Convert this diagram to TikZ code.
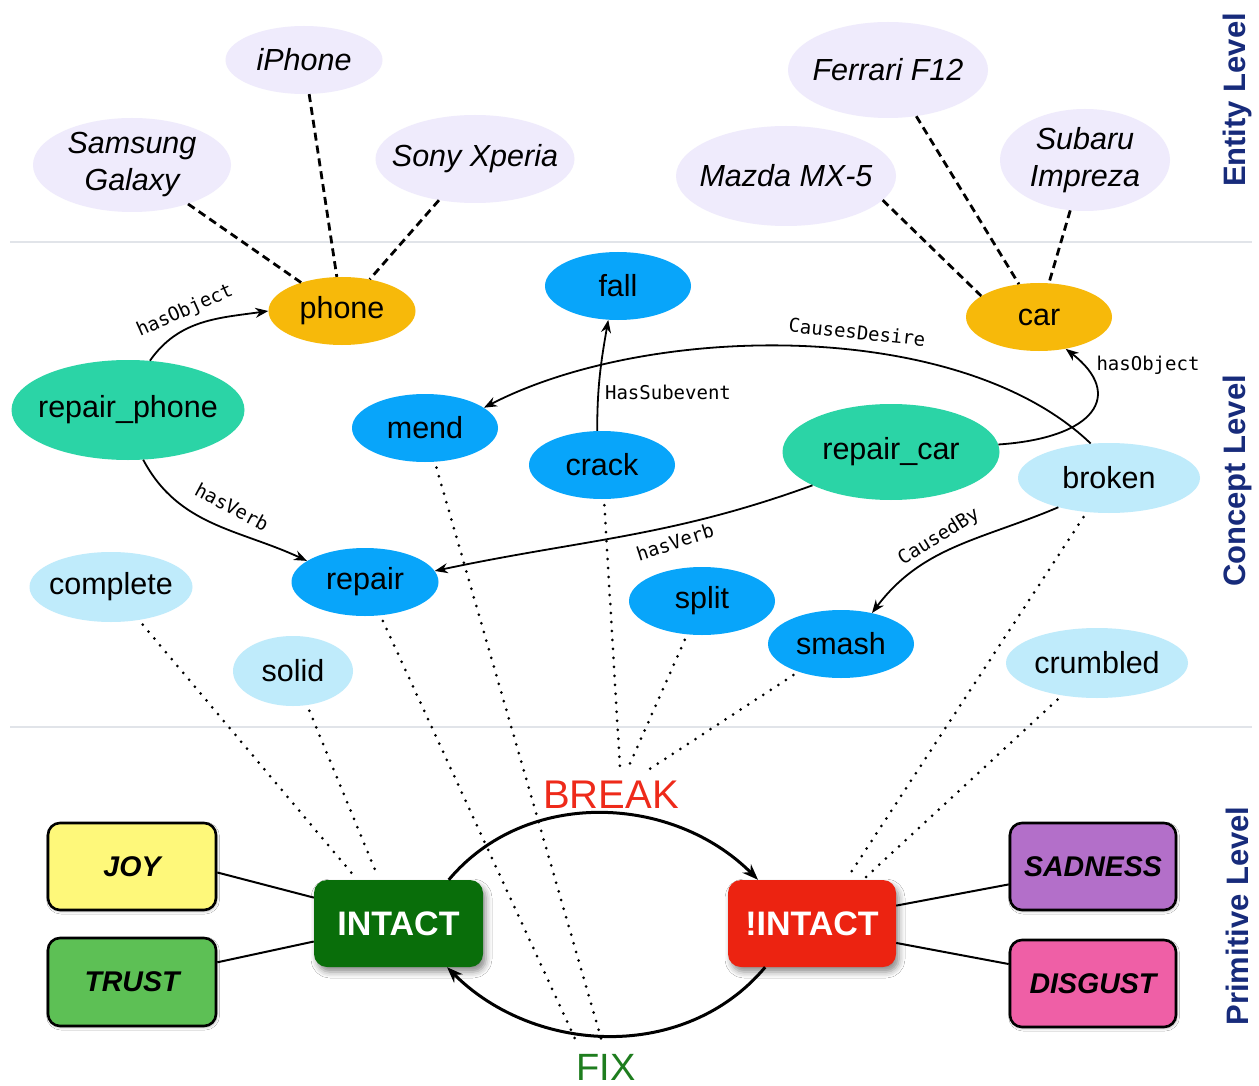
\documentclass[tikz,border=0pt]{standalone}
\usepackage{fontspec}
\setmainfont{Liberation Sans}
\newfontfamily\edgemono{DejaVu Sans Mono}
\usetikzlibrary{shapes.geometric,arrows.meta,shadows.blur}
\definecolor{lav}{HTML}{EFEBFC}
\definecolor{orng}{HTML}{F7B90A}
\definecolor{tealc}{HTML}{2BD4A6}
\definecolor{blu}{HTML}{08A5FA}
\definecolor{lblu}{HTML}{BFEBFB}
\definecolor{joyc}{HTML}{FEF87A}
\definecolor{trustc}{HTML}{5DC055}
\definecolor{intactc}{HTML}{096E0A}
\definecolor{nintc}{HTML}{EC2311}
\definecolor{sadc}{HTML}{B36FC9}
\definecolor{disc}{HTML}{EF5FA6}
\definecolor{navy}{HTML}{172B7B}
\definecolor{breakc}{HTML}{EE2A1A}
\definecolor{fixc}{HTML}{1E7D1E}
\definecolor{sepc}{HTML}{E1E4E9}
\begin{document}
\begin{tikzpicture}[x=1pt,y=-1pt,
  ell/.style={ellipse, inner sep=0pt, draw=none},
  cfont/.style={font=\fontsize{30.5}{35}\selectfont},
  efont/.style={font=\fontsize{30.5}{37}\selectfont\itshape, align=center},
  ent/.style={ell, fill=lav},
  conc/.style={ell, fill=#1},
  emo/.style={rectangle, rounded corners=12pt, draw=black, line width=2.6pt, fill=#1,
     minimum width=166pt, minimum height=87pt, inner sep=0pt,
     font=\fontsize{28.5}{32}\selectfont\bfseries\itshape,
     blur shadow={shadow blur radius=2.5pt, shadow xshift=1pt, shadow yshift=-1.5pt, shadow opacity=30}},
  state/.style={rectangle, rounded corners=13pt, fill=#1, draw=none,
     minimum width=169pt, minimum height=87pt, inner sep=0pt, text=white,
     font=\fontsize{34}{38}\selectfont\bfseries,
     blur shadow={shadow blur radius=6pt, shadow xshift=3pt, shadow yshift=-5pt, shadow opacity=45}},
  entline/.style={line width=2.8pt, dash pattern=on 8pt off 5pt},
  dotline/.style={line width=3pt, dash pattern=on 0pt off 9pt, line cap=round, shorten <=6pt},
  arr/.style={line width=1.8pt, -{Stealth[length=13pt,width=10pt]}},
  bigarr/.style={line width=3pt, -{Stealth[length=16pt,width=12pt]}},
  plain/.style={line width=2pt},
  elab/.style={font=\fontsize{19}{22}\edgemono, inner sep=0pt},
  lvl/.style={font=\fontsize{31}{36}\selectfont\bfseries, text=navy, rotate=90},
  sepline/.style={line width=1.6pt, draw=sepc}
]
\fill[white] (0,0) rectangle (1259,1086);
\useasboundingbox (0,0) rectangle (1259,1086);

% separators
\draw[sepline] (10,242) -- (1252,242);
\draw[sepline] (10,727) -- (1252,727);

% entity level
\node[ent, minimum width=157pt, minimum height=68pt, label={[efont]center:iPhone}] (iphone) at (304,60) {};
\node[ent, minimum width=198pt, minimum height=94pt, label={[efont]center:Samsung\\Galaxy}] (samsung) at (132,165) {};
\node[ent, minimum width=199pt, minimum height=88pt, label={[efont]center:Sony Xperia}] (sony) at (475,159) {};
\node[ent, minimum width=200pt, minimum height=96pt, label={[efont]center:Ferrari F12}] (ferrari) at (888,70) {};
\node[ent, minimum width=220pt, minimum height=100pt, label={[efont]center:Mazda MX-5}] (mazda) at (786,176) {};
\node[ent, minimum width=170pt, minimum height=102pt, label={[efont]center:Subaru\\Impreza}] (subaru) at (1085,160) {};

% concept level
\node[conc=orng, minimum width=147pt, minimum height=68pt, label={[cfont]center:phone}] (phone) at (342,311) {};
\node[conc=orng, minimum width=146pt, minimum height=68pt, label={[cfont]center:car}] (car) at (1039,317) {};
\node[conc=blu, minimum width=146pt, minimum height=68pt, label={[cfont]center:fall}] (fall) at (618,286) {};
\node[conc=tealc, minimum width=233pt, minimum height=100pt, label={[cfont]center:repair\_phone}] (rphone) at (128,410) {};
\node[conc=blu, minimum width=146pt, minimum height=68pt, label={[cfont]center:mend}] (mend) at (425,428) {};
\node[conc=blu, minimum width=146pt, minimum height=68pt, label={[cfont]center:crack}] (crack) at (602,465) {};
\node[conc=tealc, minimum width=217pt, minimum height=96pt, label={[cfont]center:repair\_car}] (rcar) at (891,452) {};
\node[conc=lblu, minimum width=182pt, minimum height=70pt, label={[cfont]center:broken}] (broken) at (1109,478) {};
\node[conc=lblu, minimum width=163pt, minimum height=70pt, label={[cfont]center:complete}] (complete) at (111,587) {};
\node[conc=blu, minimum width=147pt, minimum height=68pt, label={[cfont]center:repair}] (repair) at (365,582) {};
\node[conc=blu, minimum width=146pt, minimum height=68pt, label={[cfont]center:split}] (split) at (702,601) {};
\node[conc=blu, minimum width=146pt, minimum height=68pt, label={[cfont]center:smash}] (smash) at (841,644) {};
\node[conc=lblu, minimum width=120pt, minimum height=70pt, label={[cfont]center:solid}] (solid) at (293,671) {};
\node[conc=lblu, minimum width=182pt, minimum height=70pt, label={[cfont]center:crumbled}] (crumbled) at (1097,663) {};

% primitive level
\node[emo=joyc, minimum width=168pt] (joy) at (132,866.5) {JOY};
\node[emo=trustc, minimum width=168pt, minimum height=88pt] (trust) at (132,982) {TRUST};
\node[state=intactc] (intact) at (398.5,923.5) {INTACT};
\node[state=nintc, minimum width=168pt] (notintact) at (812,923.5) {!INTACT};
\node[emo=sadc] (sadness) at (1093,866.5) {SADNESS};
\node[emo=disc] (disgust) at (1093,983.5) {DISGUST};

% free ends of dotted links
\coordinate (eC) at (355,877);
\coordinate (eS) at (378,877);
\coordinate (eR) at (577,1043);
\coordinate (eM) at (603,1045);
\coordinate (eCr) at (620,768);
\coordinate (eSp) at (628,768);
\coordinate (eSm) at (645,772);
\coordinate (eB) at (848,877);
\coordinate (eCu) at (866,877);

% dashed entity links
\draw[entline] (samsung) -- (phone);
\draw[entline] (iphone) -- (phone);
\draw[entline] (sony) -- (phone);
\draw[entline] (mazda.-14) -- (car.160);
\draw[entline] (ferrari) -- (car);
\draw[entline] (subaru) -- (car);

% relation arrows
\draw[arr] (rphone.66) to[out=55, in=188] (phone.west);
\draw[arr] (rphone.-73) to[out=-62, in=155] (repair.160);
\draw[arr] (rcar.203) to[out=200, in=12] (repair.9);
\draw[arr] (crack.98) to[out=90, in=-100] (fall.-106);
\draw[arr] (broken.118) .. controls (960,318) and (650,322) .. (mend.19);
\draw[arr] (rcar.4) .. controls (1095,438) and (1125,395) .. (car.-50);
\draw[arr] (broken.-150) to[out=203, in=53] (smash.45);

% relation labels
\node[elab, rotate=24] (lho1) at (185,311) {hasObject};
\node[elab, rotate=-28] (lhv1) at (232,507) {hasVerb};
\node[elab, rotate=18] (lhv2) at (675,542) {hasVerb};
\node[elab] (lsub) at (668,392) {HasSubevent};
\node[elab, rotate=-6] (lcd) at (857,332) {CausesDesire};
\node[elab] (lho2) at (1148,365) {hasObject};
\node[elab, rotate=32] (lcb) at (939,537) {CausedBy};

% dotted grounding links
\draw[dotline] (complete) -- (eC);
\draw[dotline] (solid) -- (eS);
\draw[dotline] (repair) -- (eR);
\draw[dotline] (mend) -- (eM);
\draw[dotline] (crack) -- (eCr);
\draw[dotline] (split) -- (eSp);
\draw[dotline] (smash) -- (eSm);
\draw[dotline] (broken) -- (eB);
\draw[dotline] (crumbled) -- (eCu);

% primitive links
\draw[plain] (joy.-4) -- (intact.163);
\draw[plain] (trust.13) -- (intact.192);
\draw[plain] (sadness.192) -- (notintact.12);
\draw[plain] (disgust.167) -- (notintact.-13);

\draw[bigarr] (intact.41) to[out=50, in=135] (notintact.141);
\draw[bigarr] (notintact.-137) to[out=-130, in=-45] (intact.-42);

\node[font=\fontsize{40}{44}\selectfont, text=breakc] (brk) at (611,795) {BREAK};
\node[font=\fontsize{38}{42}\selectfont, text=fixc] (fix) at (606,1067) {FIX};

% level labels
\node[lvl] (lvE) at (1237,100) {Entity Level};
\node[lvl] (lvC) at (1237,481) {Concept Level};
\node[lvl] (lvP) at (1237,916) {Primitive Level};
\end{tikzpicture}
\end{document}
